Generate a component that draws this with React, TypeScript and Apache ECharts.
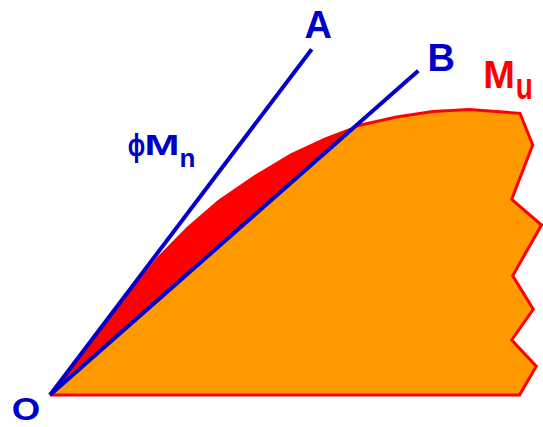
import React, { useEffect, useRef } from "react";
import * as echarts from "echarts";

// Data space: origin at O, x = curvature, y = moment (arbitrary units)
const curvePoints: number[][] = [
  [0, 0], [40.8, 53], [77, 100], [107.5, 138.3], [137, 168.3], [168, 195],
  [204.5, 220], [240.9, 241.7], [275.5, 257.7], [303.2, 268.3], [346.5, 278],
  [382.8, 283.5], [419, 285.6], [470, 281.7],
];
const jaggedEdge: number[][] = [
  [482.7, 250], [461.7, 195.7], [491.5, 170], [462.7, 119.3], [483.3, 85.7],
  [461.7, 55], [486.3, 28.7], [469.5, 0],
];
const lineA: number[][] = [[0, 0], [261.7, 345.7]];
const lineB: number[][] = [[0, 0], [368.3, 324.3]];

const BLUE = "#0000CC";
const RED = "#FF0000";
const ORANGE = "#FF9900";
const FONT = '"Liberation Sans", Arial, Helvetica, sans-serif';

function intersectCurveWithLine(curve: number[][], end: number[]) {
  // line through origin and end
  const side = (p: number[]) => p[0] * end[1] - p[1] * end[0];
  for (let i = 1; i < curve.length - 1; i++) {
    const a = curve[i], b = curve[i + 1];
    const sa = side(a), sb = side(b);
    if (sa < 0 && sb >= 0) {
      const t = sa / (sa - sb);
      return { idx: i + 1, pt: [a[0] + t * (b[0] - a[0]), a[1] + t * (b[1] - a[1])] };
    }
  }
  return { idx: curve.length - 1, pt: curve[curve.length - 1] };
}

export default function App() {
  const ref = useRef<HTMLDivElement>(null);
  useEffect(() => {
    if (!ref.current) return;
    const chart = echarts.init(ref.current, undefined, { renderer: "svg" });
    const fullShape = [...curvePoints, ...jaggedEdge];
    const inter = intersectCurveWithLine(curvePoints, lineB[1]);
    const orangeShape = [[0, 0], inter.pt, ...curvePoints.slice(inter.idx), ...jaggedEdge];
    const outline = [inter.pt, ...curvePoints.slice(inter.idx), ...jaggedEdge, [0, 0]];

    const polySeries = (data: number[][], fill: string, z: number) => ({
      type: "custom",
      z,
      silent: true,
      data,
      encode: { x: 0, y: 1 },
      renderItem: (params: any, api: any) => {
        if (params.dataIndex !== 0) return null;
        const pts = data.map((p) => api.coord(p));
        return { type: "polygon", shape: { points: pts }, style: { fill, stroke: "none" } };
      },
    });

    const txt = (text: string, x: number, y: number, size: number, color: string, sx = 1, sy = 1) => ({
      type: "text",
      x,
      y,
      scaleX: sx,
      scaleY: sy,
      z: 100,
      style: {
        text,
        fill: color,
        fontSize: size,
        fontWeight: "bold",
        fontFamily: FONT,
        align: "center",
        verticalAlign: "middle",
        lineHeight: Math.round(size * 0.8),
      },
    });

    chart.setOption({
      animation: false,
      backgroundColor: "#ffffff",
      grid: { left: 0, right: 0, top: 0, bottom: 0 },
      xAxis: { type: "value", min: -50, max: 493, show: false },
      yAxis: { type: "value", min: -32, max: 395, show: false },
      series: [
        polySeries(fullShape, RED, 1),
        polySeries(orangeShape, ORANGE, 2),
        {
          type: "line",
          z: 3,
          data: outline,
          symbol: "none",
          silent: true,
          lineStyle: { color: RED, width: 3, join: "miter" },
        },
        {
          type: "line",
          z: 4,
          data: lineA,
          symbol: "none",
          silent: true,
          lineStyle: { color: BLUE, width: 4, cap: "butt" },
        },
        {
          type: "line",
          z: 4,
          data: lineB,
          symbol: "none",
          silent: true,
          lineStyle: { color: BLUE, width: 4, cap: "butt" },
        },
      ],
      graphic: [
        txt("A", 318.3, 24.5, 38, BLUE),
        txt("B", 441.3, 57.5, 38, BLUE),
        txt("O", 26, 409, 30, BLUE, 1.22, 1.05),
        txt("M", 499.2, 74.5, 38, RED),
        txt("u", 524.2, 86, 28, RED, 1, 1.35),
        txt("\u03D5", 136.5, 145, 31, BLUE, 0.75, 1),
        txt("M", 162, 144.5, 30, BLUE, 1.4, 1),
        txt("n", 187.5, 157.5, 26, BLUE),
      ],
    });
    return () => chart.dispose();
  }, []);
  return (
    <div
      ref={ref}
      style={{ position: "absolute", left: 0, top: 0, width: 543, height: 427, background: "#fff" }}
    />
  );
}
